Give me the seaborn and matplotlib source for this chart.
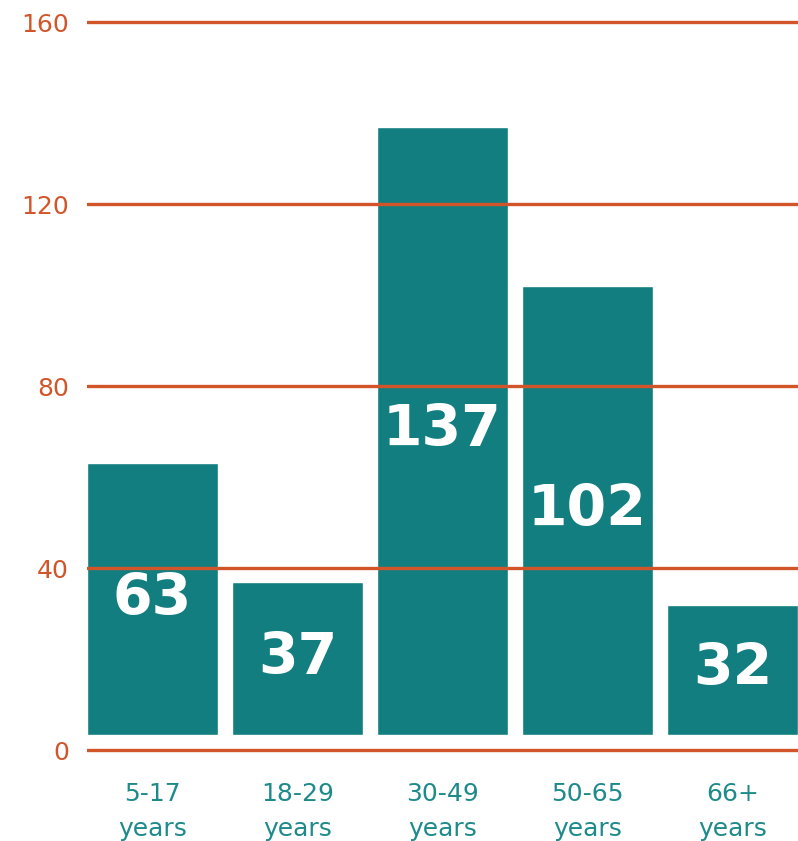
import matplotlib
matplotlib.use("Agg")
import matplotlib.pyplot as plt
import seaborn as sns
import pandas as pd

categories = ["5-17\nyears", "18-29\nyears", "30-49\nyears", "50-65\nyears", "66+\nyears"]
values = [63, 37, 137, 102, 32]
yticks = [0, 40, 80, 120, 160]

BAR = "#127E80"
GRID = "#D2552A"
XLAB = "#1E8A8A"
BASE = 3.3

sns.set_theme(style="white")
plt.rcParams["font.family"] = ["DejaVu Sans"]

df = pd.DataFrame({"age": categories, "count": values})

fig = plt.figure(figsize=(7.98, 8.41), dpi=100)
ax = fig.add_axes([0.109, 0.0999, 0.891, 0.8846])

sns.barplot(data=df, x="age", y="count", color=BAR, saturation=1, width=0.9,
            ax=ax, zorder=2)

for p in ax.patches:
    h = p.get_height()
    p.set_y(BASE)
    p.set_height(h - BASE)

for p, v in zip(ax.patches, values):
    ax.text(p.get_x() + p.get_width() / 2, p.get_y() + p.get_height() / 2, str(v),
            ha="center", va="center", color="white", fontsize=41,
            fontweight="bold", zorder=4)

for t in yticks:
    ax.axhline(t, color=GRID, lw=2.4, zorder=3)

ax.set_xlim(-0.45, 4.45)
ax.set_ylim(-1.5, 162)
ax.set_yticks(yticks)
ax.set_yticklabels([str(t) for t in yticks], color=GRID, fontsize=18)
ax.tick_params(axis="y", length=0, pad=13)
ax.tick_params(axis="x", length=0, pad=18, labelsize=18, labelcolor=XLAB)
for lbl in ax.get_xticklabels():
    lbl.set_linespacing(1.6)
ax.set_xlabel("")
ax.set_ylabel("")
for s in ax.spines.values():
    s.set_visible(False)

fig.savefig("out.png", dpi=100, facecolor="white")
